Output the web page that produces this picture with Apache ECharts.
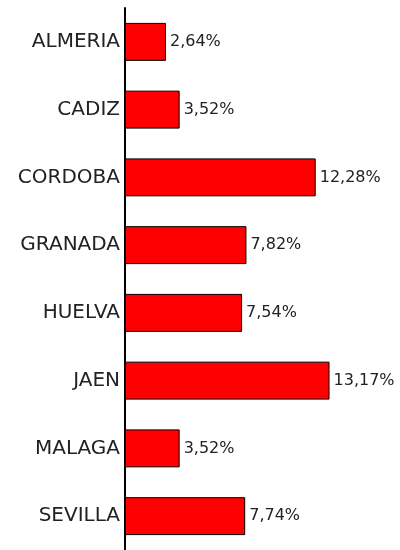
<!DOCTYPE html>
<html><head><meta charset="utf-8">
<script src="https://cdn.jsdelivr.net/npm/echarts@6/dist/echarts.min.js"></script>
<style>html,body{margin:0;padding:0;background:#fff}#c{width:400px;height:550px}</style>
</head><body><div id="c"></div>
<script>
const categories = ["ALMERIA","CADIZ","CORDOBA","GRANADA","HUELVA","JAEN","MALAGA","SEVILLA"];
const values = [2.64,3.52,12.28,7.82,7.54,13.17,3.52,7.74];
const chart = echarts.init(document.getElementById('c'));
chart.setOption({
  animation:false,
  backgroundColor:'#fff',
  grid:{left:125,top:8,bottom:-1,right:11,containLabel:false},
  xAxis:{type:'value',min:0,max:17,show:false},
  yAxis:{type:'category',data:categories,inverse:true,
    axisLine:{show:true,lineStyle:{color:'#000',width:2}},
    axisTick:{show:false},
    axisLabel:{fontFamily:'DejaVu Sans',fontSize:20,color:'#222',margin:5}},
  series:[{type:'bar',data:values,barCategoryGap:'44%',
    itemStyle:{color:'#ff0000',borderColor:'#000',borderWidth:1},
    label:{show:true,position:'right',distance:4,fontFamily:'DejaVu Sans',fontSize:16,color:'#222',
      formatter:p=>p.value.toFixed(2).replace('.',',')+'%'}}]
});
</script></body></html>
